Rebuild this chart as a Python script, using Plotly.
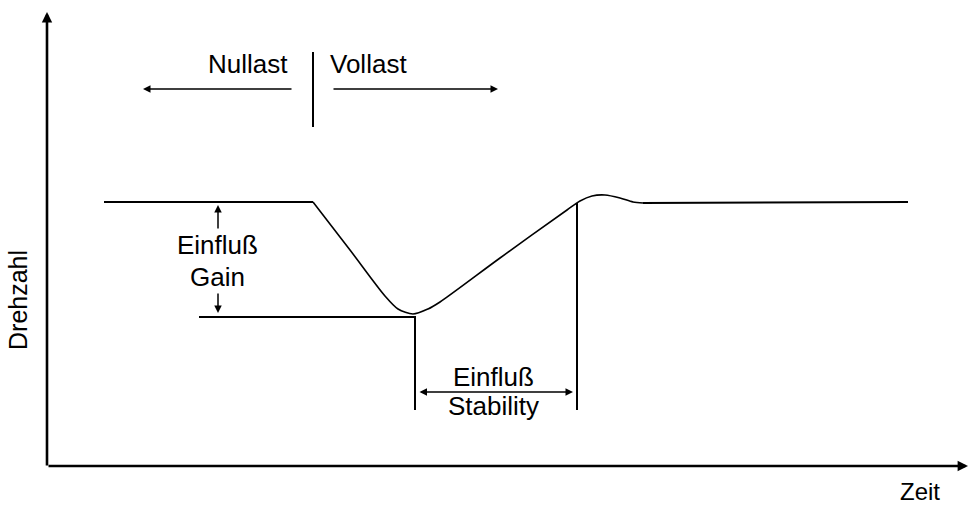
import plotly.graph_objects as go

# Drehzahlverlauf (Zeit / Drehzahl in Zeichnungseinheiten, Ursprung im Achsenkreuz)
zeit_start = [57, 266]
drehzahl_start = [264, 264]

zeit_einbruch = [266, 303, 338, 351, 366, 381, 393, 453, 520, 533, 545, 558, 573, 586, 596]
drehzahl_einbruch = [264, 216, 170, 157, 152, 157, 164, 208, 256, 265, 270, 271, 268, 264, 263]

zeit_ende = [596, 861]
drehzahl_ende = [263, 264]

# Hilfslinien
zeit_min_linie = [152, 368, 368]
drehzahl_min_linie = [149, 149, 56]
zeit_stab_linie = [530, 530]
drehzahl_stab_linie = [263, 56]
zeit_last_linie = [266, 266]
drehzahl_last_linie = [414, 339]

FONT = "Liberation Sans, Arial, sans-serif"
SCHWARZ = "black"

fig = go.Figure()


def linie(x, y, breite=2, form="linear"):
    fig.add_trace(
        go.Scatter(
            x=x, y=y,
            mode="lines",
            line=dict(color=SCHWARZ, width=breite, shape=form, smoothing=0.8),
            showlegend=False,
            hoverinfo="skip",
        )
    )


linie(zeit_start, drehzahl_start)
linie(zeit_einbruch, drehzahl_einbruch, breite=1.6, form="spline")
linie(zeit_ende, drehzahl_ende)
linie(zeit_min_linie, drehzahl_min_linie)
linie(zeit_stab_linie, drehzahl_stab_linie)
linie(zeit_last_linie, drehzahl_last_linie)


def pfeil(x0, y0, x1, y1, breite=1.5, beide=False, kopf=2, groesse=1.0):
    fig.add_annotation(
        x=x1, y=y1, ax=x0, ay=y0,
        xref="x", yref="y", axref="x", ayref="y",
        text="", showarrow=True,
        arrowhead=kopf, arrowsize=groesse, arrowwidth=breite,
        arrowcolor=SCHWARZ, standoff=0, startstandoff=0,
        arrowside="end+start" if beide else "end",
        startarrowhead=kopf, startarrowsize=groesse,
    )


# Achsen
pfeil(0, -1, 0, 454, breite=2.6, groesse=0.8)
pfeil(0, 0, 921, 0, breite=2.6, groesse=0.8)

# Last-Pfeile
pfeil(246, 377, 96, 377)
pfeil(285, 377, 451, 377)

# Gain-Pfeile
pfeil(171, 236, 171, 261)
pfeil(171, 174, 171, 153)

# Stability-Pfeil
pfeil(371, 74, 526, 74, beide=True)


def text(x, y, inhalt, xanchor="center", winkel=0, groesse=26):
    fig.add_annotation(
        x=x, y=y, xref="x", yref="y", text=inhalt, showarrow=False,
        xanchor=xanchor, yanchor="middle", textangle=winkel,
        font=dict(family=FONT, size=groesse, color=SCHWARZ),
    )


text(243, 402, "Nullast", xanchor="right")
text(281, 402, "Vollast", xanchor="left")
text(170, 221, "Einfluß")
text(170, 189, "Gain")
text(446, 89, "Einfluß")
text(446, 60, "Stability")
text(-29, 166, "Drehzahl", winkel=-90, groesse=25)
text(873, -25, "Zeit", groesse=24)

fig.update_layout(
    width=968, height=505,
    margin=dict(l=0, r=0, t=0, b=0),
    paper_bgcolor="white", plot_bgcolor="white",
    xaxis=dict(range=[-47, 921], visible=False, fixedrange=True),
    yaxis=dict(range=[-39, 466], visible=False, fixedrange=True),
)

# Seitenrand entfernen, damit die Figur das Fenster genau fuellt
fig.write_html(
    "out.html",
    config={"displayModeBar": False},
    post_script="document.body.style.margin='0';",
)
